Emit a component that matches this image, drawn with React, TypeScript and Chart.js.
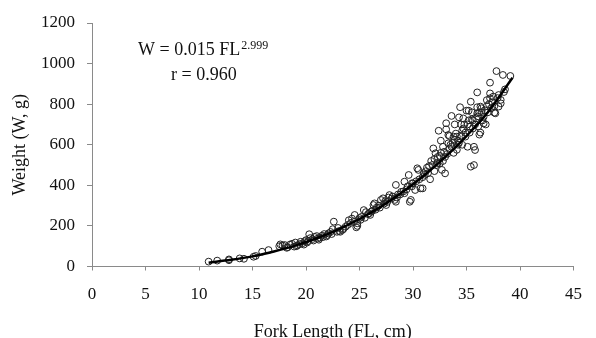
import React, { useEffect, useRef } from "react";
import { Chart, registerables } from "chart.js";

Chart.register(...registerables);

// Observed fork length (cm) / weight (g) pairs
const obsFL: number[] = [
  10.9, 11.7, 12.8, 12.8, 13.8, 14.2, 15.3, 15.1, 15.9, 16.5, 17.6, 17.8, 17.5, 18.0, 18.3, 18.5, 18.7, 18.9, 19.0, 19.2,
  19.4, 19.5, 19.7, 19.9, 20.0, 20.1, 20.3, 20.4, 20.6, 20.8, 21.0, 21.1, 21.3, 21.5, 21.7, 21.9, 22.1, 22.3, 22.6, 22.9,
  22.5, 23.2, 23.4, 23.0, 23.7, 24.0, 24.3, 24.55, 24.8, 24.7, 24.8, 25.0, 25.2, 25.4, 25.6, 25.8, 26.0, 26.1, 26.3, 26.4,
  26.6, 26.8, 27.0, 27.2, 27.5, 27.4, 27.7, 27.8, 28.0, 28.3, 28.4, 28.4, 28.6, 28.9, 29.2, 29.2, 29.6, 29.7, 29.8, 29.9,
  30.0, 30.2, 30.5, 30.7, 30.9, 30.9, 31.1, 31.3, 30.4, 31.6, 31.8, 31.9, 32.1, 32.0, 32.3, 32.4, 32.5, 32.7, 32.8, 33.0,
  33.0, 33.1, 33.1, 33.3, 33.3, 33.4, 33.6, 33.6, 33.8, 34.0, 34.1, 34.2, 34.3, 34.4, 34.5, 34.6, 34.8, 35.0, 35.1, 35.2,
  35.3, 35.4, 35.4, 35.5, 35.7, 35.7, 35.8, 35.9, 36.0, 36.0, 36.0, 36.1, 36.2, 36.3, 36.3, 36.4, 36.5, 36.6, 36.8, 37.0,
  37.2, 37.2, 37.2, 37.5, 37.6, 37.7, 37.8, 38.0, 38.0, 38.2, 38.2, 38.4, 38.6, 39.1,
  29.4, 30.3, 30.6, 31.0, 31.2, 31.5, 31.7, 32.0, 32.2, 32.5, 32.6, 32.9, 33.2, 33.5, 33.7, 33.9, 34.1, 34.3, 34.6, 34.7,
  34.9, 35.1, 35.3, 35.6, 35.8, 36.1, 36.4, 36.7, 36.9, 37.1, 37.4, 37.6,
  18.2, 19.1, 19.8, 20.2, 20.7, 21.2, 21.6, 22.0, 22.4, 23.1, 23.5, 23.9, 24.2, 24.5, 25.1, 25.5, 25.9, 26.2, 26.5, 26.9,
  27.3, 27.6, 28.1, 28.5, 28.8, 29.1, 29.5, 29.9,
  31.4, 32.3, 32.8, 33.4, 33.8, 34.2, 34.5, 34.9, 35.2, 35.6, 36.2, 36.6, 37.3, 37.9, 38.5, 33.9, 34.7, 35.5, 36.9, 32.6,
];
const obsW: number[] = [
  24, 29, 35, 31, 40, 38, 52, 48, 73, 81, 109, 104, 100, 106, 95, 108, 112, 98, 118, 104,
  110, 122, 115, 125, 130, 118, 159, 140, 135, 146, 150, 138, 142, 152, 160, 148, 163, 170, 221, 171,
  184, 171, 180, 190, 196, 228, 236, 254, 213, 193, 200, 239, 245, 278, 268, 258, 254, 270, 303, 311,
  290, 300, 328, 336, 303, 322, 340, 352, 335, 328, 402, 319, 355, 368, 361, 418, 451, 319, 328, 395,
  410, 377, 476, 385, 385, 440, 452, 487, 484, 430, 500, 582, 558, 470, 510, 669, 508, 476, 590, 459,
  540, 706, 676, 648, 607, 643, 742, 590, 560, 655, 575, 620, 735, 785, 645, 600, 700, 768, 590, 768,
  660, 812, 492, 725, 500, 590, 574, 730, 858, 785, 755, 690, 650, 788, 660, 780, 720, 738, 700, 760,
  906, 853, 829, 837, 758, 755, 963, 845, 788, 821, 804, 944, 873, 939,
  380, 420, 430, 460, 470, 495, 520, 530, 500, 545, 560, 565, 555, 600, 610, 625, 640, 610, 670, 680,
  660, 700, 690, 720, 700, 740, 760, 770, 790, 800, 810, 790,
  92, 100, 108, 125, 128, 132, 145, 155, 160, 175, 185, 205, 215, 220, 230, 240, 262, 275, 280, 290,
  310, 318, 345, 340, 355, 370, 395, 410,
  460, 540, 520, 580, 640, 600, 700, 640, 720, 680, 760, 705, 780, 830, 860, 700, 730, 760, 820, 620,
];

// Fitted curve W = 0.015 FL^2.999
const fitFL: number[] = [10.9, 13, 15, 17, 19, 21, 23, 25, 27, 29, 31, 33, 35, 37, 39.3];
const fitW: number[] = [19, 33, 50, 74, 103, 139, 182, 234, 295, 366, 447, 539, 643, 760, 930];

const xTicks: number[] = [0, 5, 10, 15, 20, 25, 30, 35, 40, 45];
const yTicks: number[] = [0, 200, 400, 600, 800, 1000, 1200];

const eqMain = "W = 0.015 FL";
const eqExp = "2.999";
const eqR = "r = 0.960";
const xTitle = "Fork Length (FL, cm)";
const yTitle = "Weight (W, g)";

const SERIF = "'Liberation Serif', 'Times New Roman', serif";

export default function App() {
  const ref = useRef<HTMLCanvasElement | null>(null);

  useEffect(() => {
    document.body.style.margin = "0";
    const canvas = ref.current;
    if (!canvas) return;

    const annotation = {
      id: "equationText",
      afterDraw(chart: any) {
        const ctx = chart.ctx;
        ctx.save();
        ctx.fillStyle = "#111";
        ctx.textBaseline = "alphabetic";
        ctx.textAlign = "left";
        ctx.font = `18px ${SERIF}`;
        ctx.fillText(eqMain, 138, 55);
        const w = ctx.measureText(eqMain).width;
        ctx.font = `12px ${SERIF}`;
        ctx.fillText(eqExp, 138 + w + 1, 49);
        ctx.font = `18px ${SERIF}`;
        ctx.fillText(eqR, 171, 80);
        ctx.restore();
      },
    };

    const chart = new Chart(canvas, {
      type: "scatter",
      data: {
        datasets: [
          {
            label: "Observed",
            data: obsFL.map((x, i) => ({ x, y: obsW[i] })),
            pointRadius: 3.4,
            pointBorderWidth: 1,
            borderColor: "#222",
            backgroundColor: "rgba(0,0,0,0)",
            pointBackgroundColor: "rgba(0,0,0,0)",
            pointBorderColor: "#222",
            showLine: false,
            order: 2,
          },
          {
            label: "Fit",
            data: fitFL.map((x, i) => ({ x, y: fitW[i] })),
            showLine: true,
            pointRadius: 0,
            borderColor: "#000",
            borderWidth: 2.5,
            tension: 0.4,
            cubicInterpolationMode: "monotone",
            order: 1,
          } as any,
        ],
      },
      options: {
        animation: false,
        responsive: false,
        layout: { padding: { left: 0, right: 11, top: 23, bottom: 0 } },
        plugins: { legend: { display: false }, tooltip: { enabled: false } },
        scales: {
          x: {
            type: "linear",
            min: 0,
            max: 45,
            afterBuildTicks: (s: any) => {
              s.ticks = xTicks.map((v) => ({ value: v }));
            },
            afterFit: (s: any) => {
              s.height = 71.5;
            },
            ticks: {
              color: "#111",
              font: { family: SERIF, size: 17 },
              padding: 14,
              callback: (v: any) => String(v),
            },
            grid: { display: true, drawOnChartArea: false, drawTicks: true, tickLength: 4, color: "#8a8a8a" },
            border: { display: true, color: "#8a8a8a", width: 1 },
            title: {
              display: true,
              text: xTitle,
              color: "#111",
              font: { family: SERIF, size: 18 },
              padding: { top: 0, bottom: -5 },
            },
          },
          y: {
            type: "linear",
            min: 0,
            max: 1200,
            afterBuildTicks: (s: any) => {
              s.ticks = yTicks.map((v) => ({ value: v }));
            },
            afterFit: (s: any) => {
              s.width = 92;
            },
            ticks: {
              color: "#111",
              font: { family: SERIF, size: 17 },
              padding: 12,
              callback: (v: any) => String(v),
            },
            grid: { display: true, drawOnChartArea: false, drawTicks: true, tickLength: 5, color: "#8a8a8a" },
            border: { display: true, color: "#8a8a8a", width: 1 },
            title: {
              display: true,
              text: yTitle,
              color: "#111",
              font: { family: SERIF, size: 18 },
              padding: { top: 9, bottom: 0 },
            },
          },
        },
      },
      plugins: [annotation],
    });

    return () => chart.destroy();
  }, []);

  return (
    <div style={{ position: "fixed", left: 0, top: 0, width: 596, height: 338, background: "#fff" }}>
      <canvas ref={ref} width={596} height={338} style={{ width: 596, height: 338 }} />
    </div>
  );
}
